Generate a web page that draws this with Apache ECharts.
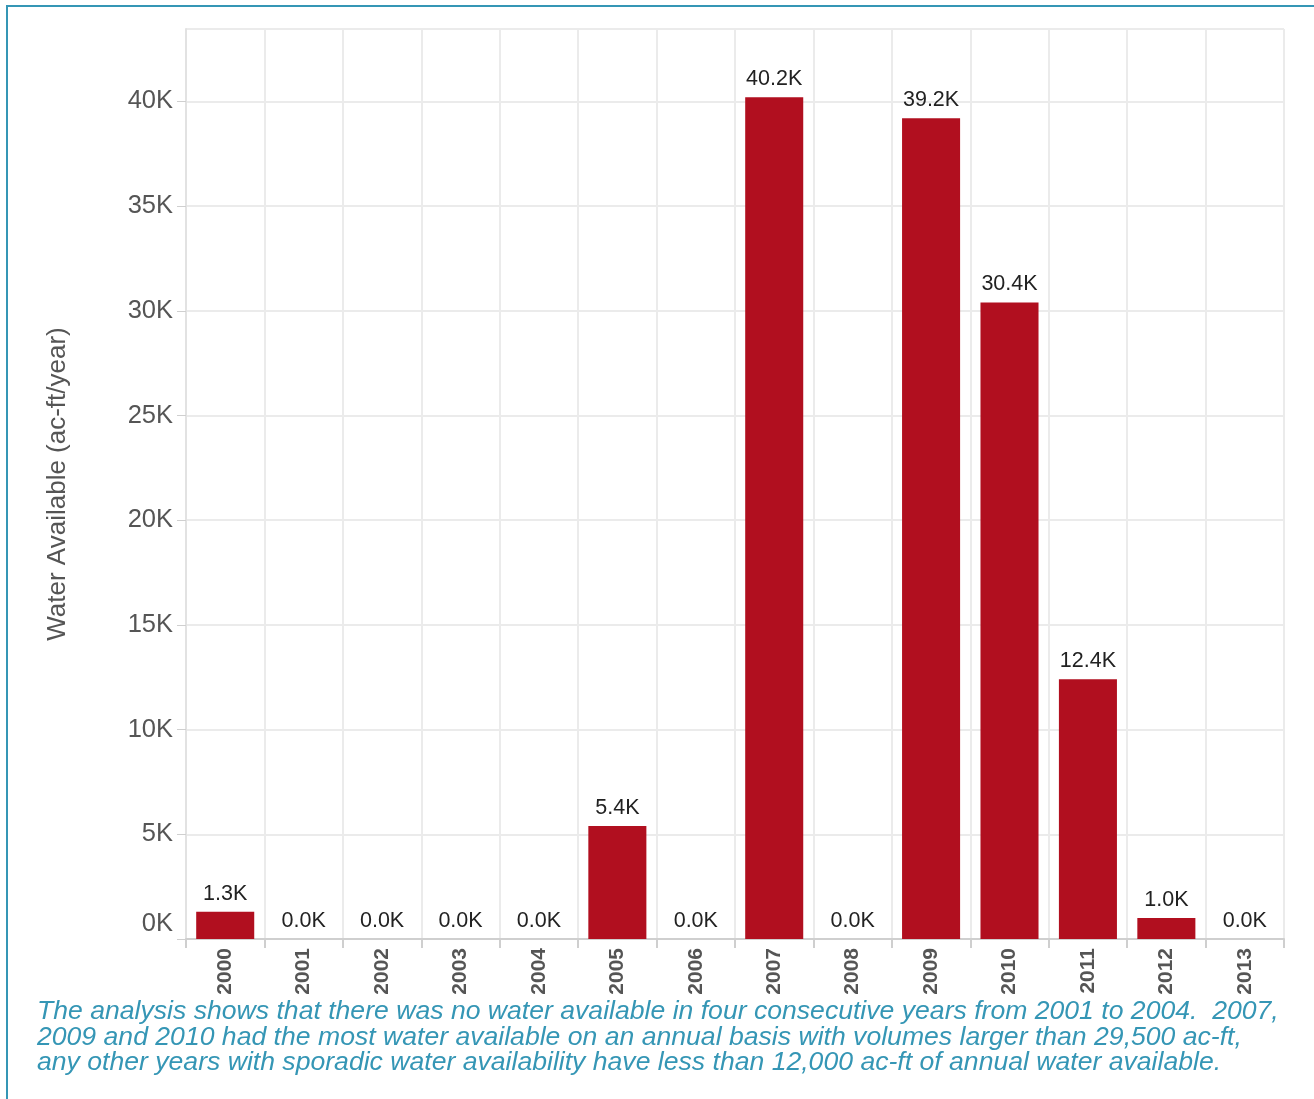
<!DOCTYPE html>
<html>
<head>
<meta charset="utf-8">
<script src="https://cdn.jsdelivr.net/npm/echarts@6/dist/echarts.min.js"></script>
<style>
  html, body { margin: 0; padding: 0; background: #fff; }
  #chart { width: 1314px; height: 1099px; }
  .frame {
    position: absolute; left: 6px; top: 5px; width: 1308px; height: 1094px;
    border-top: 2px solid #3596b5; border-left: 2px solid #3596b5;
    box-sizing: border-box; pointer-events: none;
  }
</style>
</head>
<body>
<div id="chart"></div>
<div class="frame"></div>
<script>
  // years on the x axis
  let years = ['2000','2001','2002','2003','2004','2005','2006','2007','2008','2009','2010','2011','2012','2013']
  // water available, ac-ft/year
  let water = [1300, 0, 0, 0, 0, 5400, 0, 40200, 0, 39200, 30400, 12400, 1000, 0]
  let yMax = 43460
  let yStep = 5000
  let caption = 'The analysis shows that there was no water available in four consecutive years from 2001 to 2004.  2007,\n' +
    '2009 and 2010 had the most water available on an annual basis with volumes larger than 29,500 ac-ft,\n' +
    'any other years with sporadic water availability have less than 12,000 ac-ft of annual water available.'

  let font = 'Liberation Sans, Arial, sans-serif'
  let chart = echarts.init(document.getElementById('chart'))
  let option = {
    animation: false,
    title: {
      text: caption,
      left: 32,
      top: 994,
      textStyle: {
        fontFamily: font,
        fontStyle: 'italic',
        fontWeight: 'normal',
        fontSize: 26.6,
        lineHeight: 25.5,
        color: '#3596b5'
      }
    },
    grid: {
      left: 186,
      right: 30,
      top: 29,
      bottom: 160
    },
    xAxis: {
      type: 'category',
      data: years,
      axisLine: { show: true, lineStyle: { color: '#cfcfcf', width: 2 } },
      axisTick: { show: true, length: 9, lineStyle: { color: '#cfcfcf', width: 2 } },
      axisLabel: {
        rotate: 90,
        margin: 9,
        fontFamily: font,
        fontWeight: 'bold',
        fontSize: 21,
        color: '#555'
      },
      splitLine: { show: true, lineStyle: { color: '#ebebeb', width: 2 } }
    },
    yAxis: {
      type: 'value',
      min: 0,
      max: yMax,
      interval: yStep,
      name: 'Water Available (ac-ft/year)',
      nameLocation: 'middle',
      nameGap: 115,
      nameTextStyle: { fontFamily: font, fontSize: 26, color: '#555' },
      axisLine: { show: true, lineStyle: { color: '#e2e2e2', width: 2 } },
      axisTick: { show: true, length: 9, lineStyle: { color: '#cfcfcf' } },
      axisLabel: {
        showMaxLabel: false,
        margin: 13,
        fontFamily: font,
        fontSize: 25.5,
        color: '#555',
        formatter: function (v) {
          if (v === 0) return '{zero|0K}'
          return (v / 1000) + 'K'
        },
        rich: {
          zero: { fontFamily: font, fontSize: 25.5, color: '#555', padding: [0, 0, 30, 0] }
        }
      },
      splitLine: { show: true, lineStyle: { color: '#ebebeb', width: 2 } }
    },
    series: [
      {
        name: 'Water Available',
        type: 'bar',
        data: water,
        barCategoryGap: '26%',
        itemStyle: { color: '#b10f1f' },
        label: {
          show: true,
          position: 'top',
          distance: 7,
          fontFamily: font,
          fontSize: 21.5,
          color: '#222',
          formatter: function (p) {
            return (p.value / 1000).toFixed(1) + 'K'
          }
        }
      }
    ]
  }
  chart.setOption(option)
</script>
</body>
</html>
